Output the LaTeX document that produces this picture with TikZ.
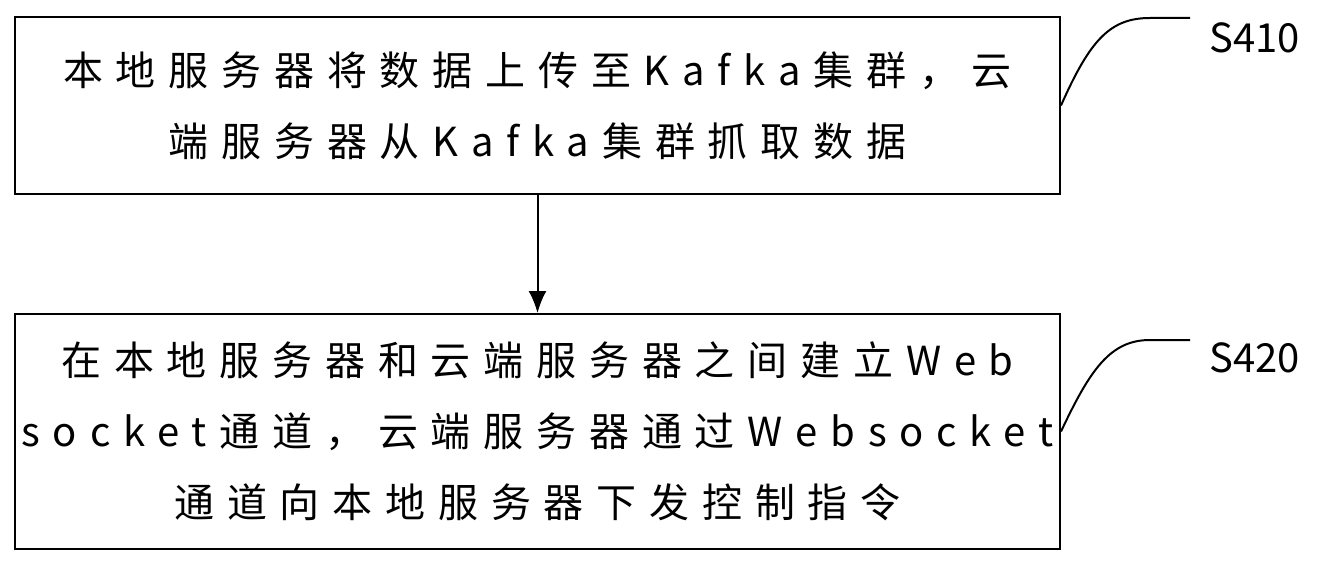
\documentclass[tikz,border=0pt]{standalone}
\usepackage{fontspec}
\usetikzlibrary{arrows.meta}
\setmainfont{Noto Sans CJK SC}
\newfontfamily\boxfont[LetterSpace=32]{Noto Sans CJK SC}
\begin{document}
\begin{tikzpicture}[x=1pt,y=-1pt,line width=2pt,
  box/.style={draw,minimum width=1045pt,anchor=north west,align=center,font=\boxfont\fontsize{40}{71}\selectfont,inner sep=0pt},
  lbl/.style={font=\fontsize{40}{42}\selectfont,anchor=west}]
\useasboundingbox (0,0) rectangle (1343,564);
\node[box,minimum height=177pt] (a) at (14,16) {本地服务器将数据上传至Kafka集群，云\\端服务器从Kafka集群抓取数据};
\node[box,minimum height=235pt] (b) at (14,313) {在本地服务器和云端服务器之间建立Web\\socket通道，云端服务器通过Websocket\\通道向本地服务器下发控制指令};
\draw[-{Latex[length=22pt,width=18pt]}] (a.south) -- (b.north);
\coordinate (c1) at (1190,18);
\coordinate (c2) at (1190,340);
\draw (a.east) .. controls (1090,40) and (1110,18) .. (1150,18) -- (c1);
\draw (b.east) .. controls (1090,370) and (1110,340) .. (1150,340) -- (c2);
\node[lbl] (s1) at (1205,38) {S410};
\node[lbl] (s2) at (1205,358) {S420};
\end{tikzpicture}
\end{document}
